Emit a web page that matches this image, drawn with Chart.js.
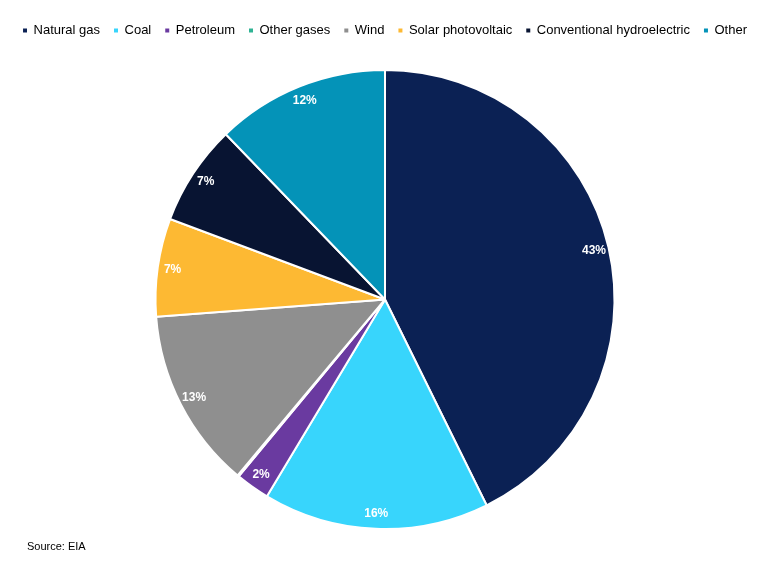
<!DOCTYPE html>
<html>
<head>
<meta charset="utf-8">
<script src="https://cdn.jsdelivr.net/npm/chart.js@4.4.0/dist/chart.umd.min.js"></script>
<style>
  html, body { margin: 0; padding: 0; background: #ffffff; }
  #wrap { position: relative; width: 770px; height: 573px; }
</style>
</head>
<body>
<div id="wrap"><canvas id="pieChart" width="770" height="573"></canvas></div>
<script>
const categories = ["Natural gas", "Coal", "Petroleum", "Other gases", "Wind", "Solar photovoltaic", "Conventional hydroelectric", "Other"];
const shares = [42.7, 15.9, 2.4, 0.1, 12.7, 6.9, 7.1, 12.2];
const colors = ["#0b2154", "#38d5fc", "#6a3aa0", "#2fb394", "#8f8f8f", "#fdb933", "#081432", "#0493b8"];

Chart.defaults.font.family = "\"Liberation Sans\", Arial, sans-serif";

// extra room under the legend
const legendGap = {
  id: "legendGap",
  beforeInit(chart) {
    const fit = chart.legend.fit;
    chart.legend.fit = function () {
      fit.bind(chart.legend)();
      this.height += 22;
    };
  }
};

// percent labels inside the slices
const sliceLabels = {
  id: "sliceLabels",
  afterDatasetsDraw(chart) {
    const ctx = chart.ctx;
    const meta = chart.getDatasetMeta(0);
    ctx.save();
    ctx.fillStyle = "#ffffff";
    ctx.font = "bold 12px \"Liberation Sans\", Arial, sans-serif";
    ctx.textAlign = "center";
    ctx.textBaseline = "middle";
    meta.data.forEach((arc, i) => {
      const v = shares[i];
      if (v < 1) return;
      const mid = (arc.startAngle + arc.endAngle) / 2;
      const r = arc.outerRadius * 0.935;
      ctx.fillText(Math.round(v) + "%", arc.x + Math.cos(mid) * r, arc.y + Math.sin(mid) * r);
    });
    ctx.restore();
  }
};

const sourceNote = {
  id: "sourceNote",
  afterDraw(chart) {
    const ctx = chart.ctx;
    ctx.save();
    ctx.fillStyle = "#000000";
    ctx.font = "11px \"Liberation Sans\", Arial, sans-serif";
    ctx.textBaseline = "middle";
    ctx.fillText("Source: EIA", 27, 547);
    ctx.restore();
  }
};

new Chart(document.getElementById("pieChart"), {
  type: "pie",
  data: {
    labels: categories,
    datasets: [{
      data: shares,
      backgroundColor: colors,
      borderColor: "#ffffff",
      borderWidth: 2,
      hoverOffset: 0
    }]
  },
  options: {
    responsive: false,
    animation: false,
    layout: {
      padding: { top: 10, bottom: 43 }
    },
    plugins: {
      legend: {
        position: "top",
        labels: {
          color: "#000000",
          boxWidth: 4,
          boxHeight: 4,
          padding: 14,
          font: { size: 13 },
          generateLabels(chart) {
            const items = Chart.overrides.pie.plugins.legend.labels.generateLabels(chart);
            return items.map(item => ({ ...item, lineWidth: 0, strokeStyle: item.fillStyle }));
          }
        }
      },
      tooltip: { enabled: false }
    }
  },
  plugins: [legendGap, sliceLabels, sourceNote]
});
</script>
</body>
</html>
